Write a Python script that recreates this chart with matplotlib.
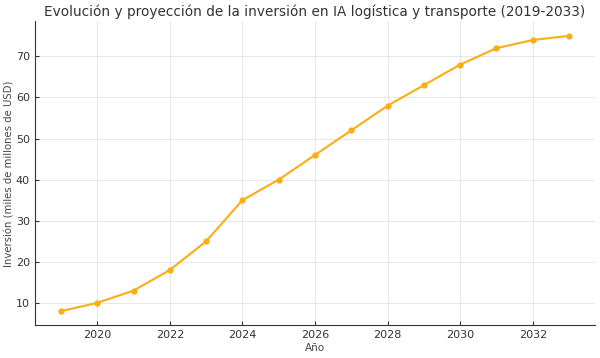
import matplotlib.pyplot as plt

# Inversión anual (miles de millones de USD)
years = [2019, 2020, 2021, 2022, 2023, 2024, 2025, 2026, 2027, 2028, 2029, 2030, 2031, 2032, 2033]
inversion = [8, 10, 13, 18, 25, 35, 40, 46, 52, 58, 63, 68, 72, 74, 75]

fig, ax = plt.subplots(figsize=(6, 3.58), dpi=100)
ax.plot(years, inversion, color='#F9AE14', marker='o', markersize=3.5, linewidth=1.5)

ax.set_title('Evolución y proyección de la inversión en IA logística y transporte (2019-2033)',
             fontsize=9.8, color='#333333', pad=4)
ax.set_xlabel('Año', fontsize=7.5, color='#444444', labelpad=2)
ax.set_ylabel('Inversión (miles de millones de USD)', fontsize=7.3, color='#444444', labelpad=1)
ax.set_xticks([2020, 2022, 2024, 2026, 2028, 2030, 2032])
ax.set_yticks([10, 20, 30, 40, 50, 60, 70])
ax.set_xlim(2018.28, 2033.72)
ax.set_ylim(4.6, 78.5)
ax.tick_params(direction='in', labelsize=8, colors='#333333', length=3)

ax.grid(True, linestyle='-', linewidth=0.6, color='#e3e3e3')
for side in ['top', 'right']:
    ax.spines[side].set_visible(False)
for side in ['left', 'bottom']:
    ax.spines[side].set_color('#333333')

fig.subplots_adjust(left=0.058, right=0.992, top=0.94, bottom=0.092)
fig.savefig('out.png')
